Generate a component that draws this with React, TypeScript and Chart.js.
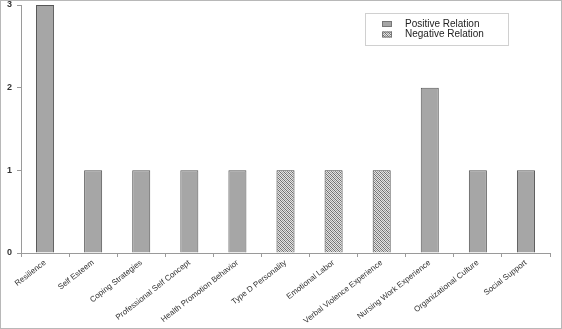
import React, { useEffect, useRef } from "react";
import { Chart, registerables } from "chart.js";

Chart.register(...registerables);

const categories = [
  "Resilience",
  "Self Esteem",
  "Coping Strategies",
  "Professional Self Concept",
  "Health Promotion Behavior",
  "Type D Personality",
  "Emotional Labor",
  "Verbal Violence Experience",
  "Nursing Work Experience",
  "Organizational Culture",
  "Social Support",
];
const positiveValues = [3, 1, 1, 1, 1, null, null, null, 2, 1, 1];
const negativeValues = [null, null, null, null, null, 1, 1, 1, null, null, null];
const yTicks = [0, 1, 2, 3];

function makePattern(): CanvasPattern | string {
  const c = document.createElement("canvas");
  c.width = 4;
  c.height = 4;
  const ctx = c.getContext("2d");
  if (!ctx) return "#bbb";
  ctx.fillStyle = "#e4e4e4";
  ctx.fillRect(0, 0, 4, 4);
  for (let y = 0; y < 4; y++) {
    for (let x = 0; x < 4; x++) {
      if ((x + y) % 2 === 0) {
        ctx.fillStyle = (x + 4 - y) % 4 === 0 ? "#6e6e6e" : "#9a9a9a";
        ctx.fillRect(x, y, 1, 1);
      }
    }
  }
  const p = ctx.createPattern(c, "repeat");
  return p || "#bbb";
}

const LABEL_FONT = "'Liberation Sans Narrow', 'Liberation Sans', sans-serif";

export default function App() {
  const ref = useRef<HTMLCanvasElement>(null);
  useEffect(() => {
    document.body.style.margin = "0";
    if (!ref.current) return;
    const pattern = makePattern();
    const legendPlugin = {
      id: "boxLegend",
      afterDraw(chart: any) {
        const ctx = chart.ctx;
        ctx.save();
        ctx.strokeStyle = "#d0d0d0";
        ctx.lineWidth = 1;
        ctx.strokeRect(365.5, 13.5, 143, 32);
        const ds = chart.data.datasets;
        ds.forEach((d: any, i: number) => {
          const y = 24 + i * 10.5;
          ctx.fillStyle = d.backgroundColor;
          ctx.fillRect(382, y - 3, 10, 6);
          ctx.strokeStyle = "#777";
          ctx.strokeRect(382.5, y - 2.5, 9, 5);
          ctx.fillStyle = "#222";
          ctx.font = "10px 'Liberation Sans', sans-serif";
          ctx.textBaseline = "middle";
          ctx.fillText(d.label, 405, y);
        });
        ctx.restore();
      },
    };
    const chart = new Chart(ref.current, {
      type: "bar",
      data: {
        labels: categories,
        datasets: [
          {
            label: "Positive Relation",
            data: positiveValues as any,
            backgroundColor: "#a6a6a6",
            borderColor: "#555555",
            borderWidth: 1,
            barPercentage: 0.375,
            categoryPercentage: 1,
          },
          {
            label: "Negative Relation",
            data: negativeValues as any,
            backgroundColor: pattern as any,
            borderColor: "#404040",
            borderWidth: 1,
            barPercentage: 0.375,
            categoryPercentage: 1,
          },
        ],
      },
      options: {
        animation: false,
        responsive: false,
        maintainAspectRatio: false,
        layout: { padding: { top: 5, right: 12, left: 0, bottom: 0 } },
        plugins: { legend: { display: false }, tooltip: { enabled: false } },
        scales: {
          x: {
            stacked: true,
            grid: {
              display: true,
              offset: true,
              drawOnChartArea: false,
              tickLength: 4,
              color: "#9a9a9a",
            },
            border: { color: "#9a9a9a" },
            ticks: {
              autoSkip: false,
              maxRotation: 38,
              minRotation: 38,
              padding: 1,
              color: "#333",
              font: { size: 8, family: LABEL_FONT },
            },
            afterFit(scale: any) {
              scale.height = 76;
              scale.paddingLeft = 0;
              scale.paddingRight = 0;
            },
          },
          y: {
            stacked: true,
            min: 0,
            max: 3,
            afterBuildTicks(scale: any) {
              scale.ticks = yTicks.map((v) => ({ value: v }));
            },
            grid: {
              display: true,
              drawOnChartArea: false,
              tickLength: 4,
              color: "#9a9a9a",
            },
            border: { color: "#9a9a9a" },
            ticks: {
              padding: 5,
              color: "#333",
              font: { size: 9, weight: "bold", family: "'Liberation Sans', sans-serif" },
            },
            afterFit(scale: any) {
              scale.width = 21;
              scale.paddingTop = 0;
              scale.paddingBottom = 0;
            },
          },
        },
      },
      plugins: [legendPlugin],
    });
    return () => chart.destroy();
  }, []);
  return (
    <div style={{ position: "relative", width: 562, height: 329 }}>
      <canvas ref={ref} width={562} height={329} style={{ display: "block" }} />
      <div
        style={{
          position: "absolute",
          left: 0,
          top: 0,
          width: 562,
          height: 329,
          boxSizing: "border-box",
          border: "1px solid #b8b8b8",
          pointerEvents: "none",
        }}
      />
    </div>
  );
}
